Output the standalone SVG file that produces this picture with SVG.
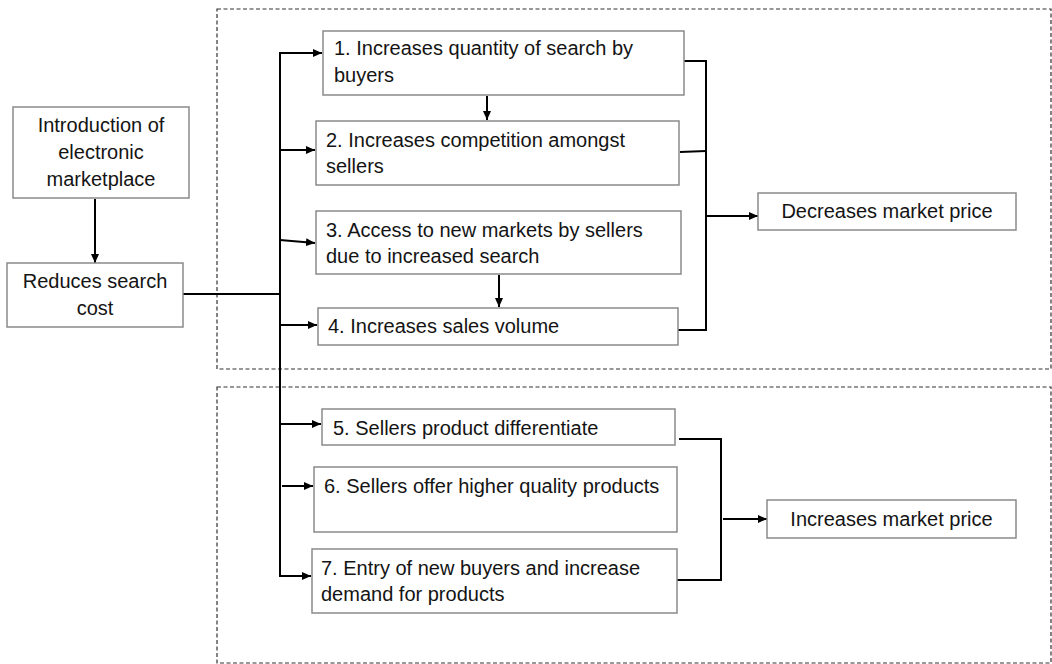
<svg xmlns="http://www.w3.org/2000/svg" width="1052" height="664" viewBox="0 0 1052 664">
<style>
.bg{fill:#fff}
.frame{fill:none;stroke:#333;stroke-width:1.2;stroke-dasharray:4 2.5}
.box{fill:#fff;stroke:#8a8a8a;stroke-width:1.5}
.t{font-family:"Liberation Sans",Arial,sans-serif;font-size:20px;fill:#141414}
.c{text-anchor:middle}
.ln{fill:none;stroke:#000;stroke-width:2}
.ar{fill:none;stroke:#000;stroke-width:2;marker-end:url(#ah)}
</style>
<defs>
<marker id="ah" viewBox="0 0 10 10" refX="10" refY="5" markerWidth="9" markerHeight="8" markerUnits="userSpaceOnUse" orient="auto" preserveAspectRatio="none">
<path d="M0,0 L10,5 L0,10 z" fill="#000"/>
</marker>
</defs>
<rect class="bg" x="0" y="0" width="1052" height="664"/>
<g id="frames">
<rect class="frame" x="217" y="9" width="834" height="360"/>
<rect class="frame" x="217" y="387" width="834" height="276"/>
</g>
<g id="connectors">
<line class="ar" x1="95" y1="199" x2="95" y2="263"/>
<line class="ln" x1="183" y1="294" x2="280" y2="294"/>
<polyline class="ln" points="300,53 280,53 280,576 300,576"/>
<line class="ar" x1="280" y1="53" x2="322" y2="53"/>
<line class="ar" x1="280" y1="576" x2="311" y2="576"/>
<line class="ar" x1="280" y1="150" x2="315" y2="150"/>
<line class="ar" x1="280" y1="240" x2="315" y2="243"/>
<line class="ar" x1="280" y1="325" x2="317" y2="325"/>
<line class="ar" x1="280" y1="424" x2="321" y2="424"/>
<line class="ar" x1="282" y1="486" x2="313" y2="486"/>
<line class="ar" x1="487" y1="96" x2="487" y2="120"/>
<line class="ar" x1="499" y1="275" x2="499" y2="307"/>
<polyline class="ln" points="682,61 706,61 706,330 675,330"/>
<line class="ln" x1="680" y1="152" x2="706" y2="151"/>
<line class="ar" x1="706" y1="216" x2="758" y2="216"/>
<polyline class="ln" points="679,439 721,439 721,580 674,580"/>
<line class="ar" x1="723" y1="519" x2="767" y2="519"/>
</g>
<g id="n-intro">
<rect class="box" x="13" y="107" width="176" height="91"/>
<text class="t c" x="101" y="132">Introduction of</text>
<text class="t c" x="101" y="159">electronic</text>
<text class="t c" x="101" y="186">marketplace</text>
</g>
<g id="n-reduces">
<rect class="box" x="7" y="263" width="176" height="64"/>
<text class="t c" x="95" y="288">Reduces search</text>
<text class="t c" x="95" y="315">cost</text>
</g>
<g id="n1">
<rect class="box" x="323" y="31" width="361" height="64"/>
<text class="t" x="334" y="55">1. Increases quantity of search by</text>
<text class="t" x="334" y="82">buyers</text>
</g>
<g id="n2">
<rect class="box" x="316" y="121" width="363" height="64"/>
<text class="t" x="326" y="147">2. Increases competition amongst</text>
<text class="t" x="326" y="173">sellers</text>
</g>
<g id="n3">
<rect class="box" x="316" y="211" width="365" height="63"/>
<text class="t" x="326" y="237">3. Access to new markets by sellers</text>
<text class="t" x="326" y="263">due to increased search</text>
</g>
<g id="n4">
<rect class="box" x="318" y="308" width="360" height="37"/>
<text class="t" x="328" y="333">4. Increases sales volume</text>
</g>
<g id="n5">
<rect class="box" x="322" y="409" width="353" height="36"/>
<text class="t" x="333" y="435">5. Sellers product differentiate</text>
</g>
<g id="n6">
<rect class="box" x="314" y="467" width="363" height="65"/>
<text class="t" x="324" y="493">6. Sellers offer higher quality products</text>
</g>
<g id="n7">
<rect class="box" x="312" y="549" width="365" height="64"/>
<text class="t" x="321" y="575">7. Entry of new buyers and increase</text>
<text class="t" x="321" y="601">demand for products</text>
</g>
<g id="n-decreases">
<rect class="box" x="758" y="193" width="258" height="37"/>
<text class="t c" x="887" y="218">Decreases market price</text>
</g>
<g id="n-increases">
<rect class="box" x="767" y="500" width="249" height="38"/>
<text class="t c" x="891.5" y="526">Increases market price</text>
</g>
</svg>
